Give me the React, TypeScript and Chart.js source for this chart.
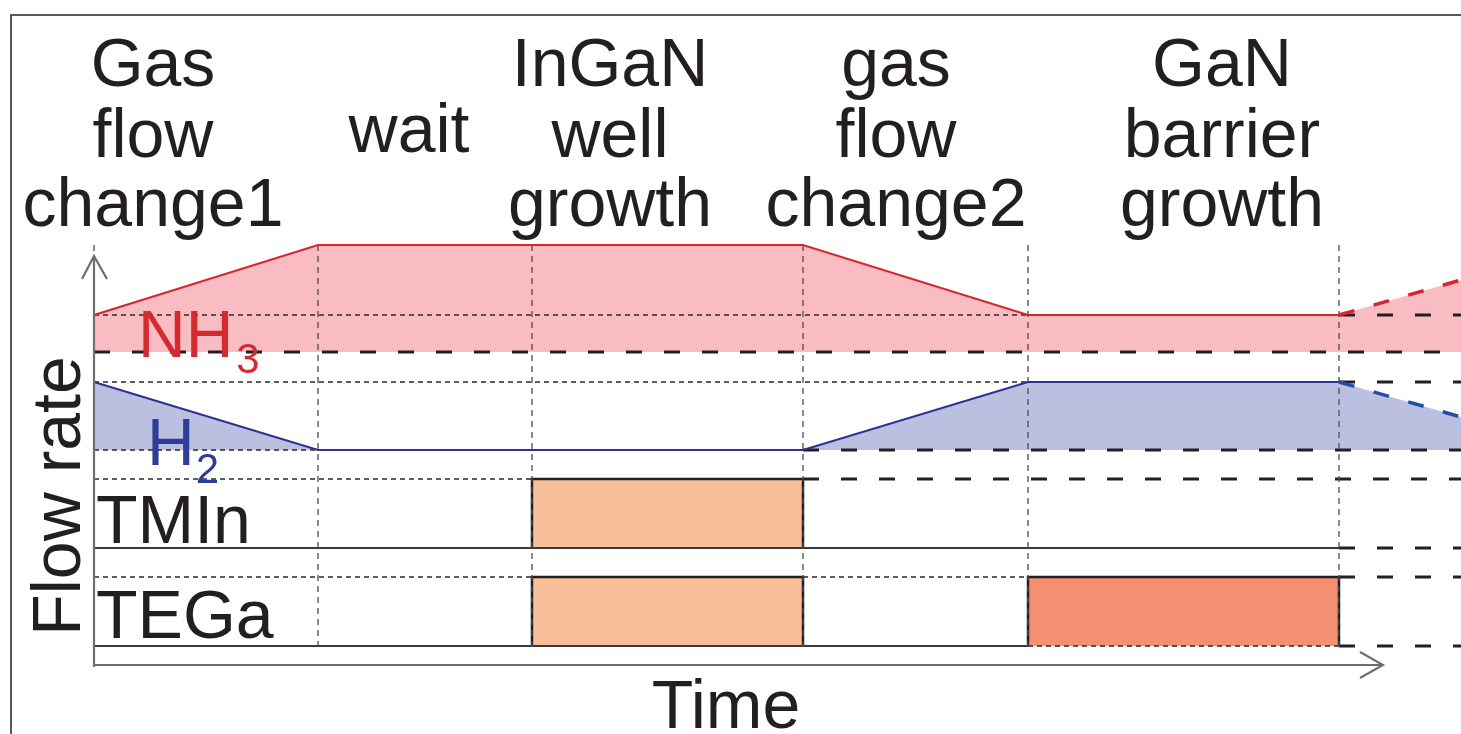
import React, { useEffect, useRef } from "react";
import { Chart, registerables } from "chart.js";

Chart.register(...registerables);

// ---- data (time in arbitrary units, flow rate in arbitrary units) ----
const phaseLabelLines = [
  ["Gas", "flow", "change1"],
  ["wait"],
  ["InGaN", "well", "growth"],
  ["gas", "flow", "change2"],
  ["GaN", "barrier", "growth"],
];
const phaseLabelTime = [5.9, 31.5, 51.6, 80.2, 112.8];
const phaseBoundaryTime = [0, 22.4, 43.8, 70.9, 93.4, 124.5];
const timeEnd = 136.7;

const nh3Time = [0, 22.4, 70.9, 93.4, 124.5, 136.7];
const nh3Flow = [35, 42, 42, 35, 35, 38.5];
const nh3Base = 31.3;

const h2Time = [0, 22.4, 70.9, 93.4, 124.5, 136.7];
const h2Flow = [28.3, 21.5, 21.5, 28.3, 28.3, 24.8];
const h2Base = 21.5;

const tmInTime = [43.8, 43.8, 70.9, 70.9];
const tmInFlow = [11.7, 18.6, 18.6, 11.7];

const tegaWellTime = [43.8, 43.8, 70.9, 70.9];
const tegaWellFlow = [1.9, 8.8, 8.8, 1.9];

const tegaBarrierTime = [93.4, 93.4, 124.5, 124.5];
const tegaBarrierFlow = [1.9, 8.8, 8.8, 1.9];

// guide lines
const thinGuideFlow = [35, 28.3, 21.5, 18.6, 8.8, 8.8, 1.9];
const thinGuideStart = [0, 0, 0, 0, 0, 70.9, 93.4];
const thinGuideEnd = [93.4, 93.4, 22.4, 43.8, 43.8, 93.4, 124.5];

const thickGuideFlow = [35, 31.3, 28.3, 21.5, 18.6, 11.7, 8.8, 1.9];
const thickGuideStart = [124.5, 0, 124.5, 70.9, 70.9, 124.5, 124.5, 124.5];

const solidGuideFlow = [11.7, 1.9];
const solidGuideEnd = [124.5, 93.4];

const verticalGuideTop = 42;
const verticalGuideBottom = 1.5;

const yAxisTop = 40.9;
const xAxisEnd = 128.9;

const FONT = '"Liberation Sans", Arial, Helvetica, sans-serif';
const INK = "#231F20";

function pts(xs: number[], ys: number[]) {
  return xs.map((x, i) => ({ x, y: ys[i] }));
}

function lineDs(data: { x: number; y: number }[], opts: any) {
  return {
    type: "line",
    data,
    pointRadius: 0,
    pointHoverRadius: 0,
    tension: 0,
    fill: false,
    clip: false,
    borderWidth: 1,
    ...opts,
  };
}

export default function App() {
  const ref = useRef<HTMLCanvasElement>(null);

  useEffect(() => {
    const datasets: any[] = [];

    // fills
    datasets.push(
      lineDs(pts(nh3Time, nh3Flow), {
        label: "NH3 fill",
        borderWidth: 0,
        borderColor: "rgba(0,0,0,0)",
        backgroundColor: "#F9BCC2",
        fill: { value: nh3Base },
        order: 100,
      })
    );
    datasets.push(
      lineDs(pts(h2Time, h2Flow), {
        label: "H2 fill",
        borderWidth: 0,
        borderColor: "rgba(0,0,0,0)",
        backgroundColor: "#BCC0E0",
        fill: { value: h2Base },
        order: 100,
      })
    );
    datasets.push(
      lineDs(pts(tmInTime, tmInFlow), {
        label: "TMIn",
        borderWidth: 2.5,
        borderColor: INK,
        backgroundColor: "#F9BF99",
        fill: { value: tmInFlow[0] },
        order: 90,
      })
    );
    datasets.push(
      lineDs(pts(tegaWellTime, tegaWellFlow), {
        label: "TEGa well",
        borderWidth: 2.5,
        borderColor: INK,
        backgroundColor: "#F9BF99",
        fill: { value: tegaWellFlow[0] },
        order: 90,
      })
    );
    datasets.push(
      lineDs(pts(tegaBarrierTime, tegaBarrierFlow), {
        label: "TEGa barrier",
        borderWidth: 2.5,
        borderColor: INK,
        backgroundColor: "#F48F71",
        fill: { value: tegaBarrierFlow[0] },
        order: 90,
      })
    );

    // thin dashed guides
    thinGuideFlow.forEach((f, i) => {
      datasets.push(
        lineDs(
          [
            { x: thinGuideStart[i], y: f },
            { x: thinGuideEnd[i], y: f },
          ],
          {
            label: "thin" + i,
            borderColor: "#2B2A2B",
            borderWidth: 1.3,
            borderDash: [5, 4],
            order: 50,
          }
        )
      );
    });
    // thick dashed guides
    thickGuideFlow.forEach((f, i) => {
      datasets.push(
        lineDs(
          [
            { x: thickGuideStart[i], y: f },
            { x: timeEnd, y: f },
          ],
          {
            label: "thick" + i,
            borderColor: INK,
            borderWidth: 3,
            borderDash: [16, 22],
            order: 50,
          }
        )
      );
    });
    // solid baselines
    solidGuideFlow.forEach((f, i) => {
      datasets.push(
        lineDs(
          [
            { x: 0, y: f },
            { x: solidGuideEnd[i], y: f },
          ],
          {
            label: "solid" + i,
            borderColor: "#3A3A3C",
            borderWidth: 2,
            order: 45,
          }
        )
      );
    });
    // vertical phase boundaries
    phaseBoundaryTime.forEach((t, i) => {
      datasets.push(
        lineDs(
          [
            { x: t, y: verticalGuideTop },
            { x: t, y: verticalGuideBottom },
          ],
          {
            label: "v" + i,
            borderColor: "#4D4D4F",
            borderWidth: 1.3,
            borderDash: [6, 5],
            order: 40,
          }
        )
      );
    });

    // series lines
    datasets.push(
      lineDs(pts(nh3Time, nh3Flow), {
        label: "NH3",
        borderColor: "#D7262B",
        borderWidth: 2,
        segment: {
          borderDash: (c: any) => (c.p0DataIndex === nh3Time.length - 2 ? [16, 20] : undefined),
          borderWidth: (c: any) => (c.p0DataIndex === nh3Time.length - 2 ? 3.5 : undefined),
        },
        order: 10,
      })
    );
    datasets.push(
      lineDs(pts(h2Time, h2Flow), {
        label: "H2",
        borderColor: "#2E3192",
        borderWidth: 2,
        segment: {
          borderDash: (c: any) => (c.p0DataIndex === h2Time.length - 2 ? [16, 20] : undefined),
          borderWidth: (c: any) => (c.p0DataIndex === h2Time.length - 2 ? 3.5 : undefined),
          borderColor: (c: any) => (c.p0DataIndex === h2Time.length - 2 ? "#1F4FA8" : undefined),
        },
        order: 10,
      })
    );

    // axes with arrows
    const axisColor = "#6D6E71";
    datasets.push(
      lineDs(
        [
          { x: 0, y: -0.2 },
          { x: 0, y: yAxisTop },
        ],
        { label: "yaxis", borderColor: axisColor, borderWidth: 2.2, order: 5 }
      )
    );
    datasets.push(
      lineDs(
        [
          { x: -1.2, y: yAxisTop - 2.3 },
          { x: 0, y: yAxisTop },
          { x: 1.3, y: yAxisTop - 2.3 },
        ],
        { label: "yarrow", borderColor: axisColor, borderWidth: 2.2, order: 5 }
      )
    );
    datasets.push(
      lineDs(
        [
          { x: 0, y: 0 },
          { x: xAxisEnd, y: 0 },
        ],
        { label: "xaxis", borderColor: axisColor, borderWidth: 2.2, order: 5 }
      )
    );
    datasets.push(
      lineDs(
        [
          { x: xAxisEnd - 2.3, y: 1.3 },
          { x: xAxisEnd, y: 0 },
          { x: xAxisEnd - 2.3, y: -1.3 },
        ],
        { label: "xarrow", borderColor: axisColor, borderWidth: 2.2, order: 5 }
      )
    );

    const textPlugin = {
      id: "schematicText",
      beforeDraw(chart: any) {
        const ctx = chart.ctx;
        ctx.save();
        ctx.fillStyle = "#ffffff";
        ctx.fillRect(0, 0, chart.width, chart.height);
        ctx.strokeStyle = "#59595B";
        ctx.lineWidth = 2;
        ctx.beginPath();
        ctx.moveTo(11, chart.height);
        ctx.lineTo(11, 15);
        ctx.lineTo(chart.width, 15);
        ctx.stroke();
        ctx.restore();
      },
      afterDatasetsDraw(chart: any) {
        const ctx = chart.ctx;
        const xs = chart.scales.x;
        const ys = chart.scales.y;
        ctx.save();
        ctx.textBaseline = "alphabetic";
        ctx.fillStyle = INK;
        ctx.font = "68px " + FONT;
        ctx.textAlign = "center";
        const rowFlow = [57.9, 50.8, 43.9];
        phaseLabelLines.forEach((lines, i) => {
          const px = xs.getPixelForValue(phaseLabelTime[i]);
          lines.forEach((ln, j) => {
            const f = lines.length === 1 ? 51.3 : rowFlow[j];
            ctx.fillText(ln, px, ys.getPixelForValue(f));
          });
        });

        // row labels
        ctx.textAlign = "left";
        ctx.fillText("TMIn", xs.getPixelForValue(0.2), ys.getPixelForValue(12.2));
        ctx.fillText("TEGa", xs.getPixelForValue(0.2), ys.getPixelForValue(2.7));

        // NH3
        ctx.fillStyle = "#D52B2F";
        ctx.font = "66px " + FONT;
        let x0 = xs.getPixelForValue(4.4);
        let y0 = ys.getPixelForValue(30.8);
        ctx.fillText("NH", x0, y0);
        let w = ctx.measureText("NH").width;
        ctx.font = "42px " + FONT;
        ctx.fillText("3", x0 + w + 3, y0 + 16);

        // H2
        ctx.fillStyle = "#2E3D98";
        ctx.font = "66px " + FONT;
        x0 = xs.getPixelForValue(5.3);
        y0 = ys.getPixelForValue(20);
        ctx.fillText("H", x0, y0);
        w = ctx.measureText("H").width;
        ctx.font = "42px " + FONT;
        ctx.fillText("2", x0 + w + 1, y0 + 18);

        // axis titles
        ctx.fillStyle = INK;
        ctx.font = "68px " + FONT;
        ctx.textAlign = "center";
        ctx.fillText("Time", xs.getPixelForValue(63.2), ys.getPixelForValue(-6.3));
        ctx.save();
        ctx.translate(xs.getPixelForValue(-1.4), ys.getPixelForValue(16.9));
        ctx.rotate(-Math.PI / 2);
        ctx.fillText("Flow rate", 0, 0);
        ctx.restore();

        ctx.restore();
      },
    };

    const chart = new Chart(ref.current as HTMLCanvasElement, {
      type: "line",
      data: { datasets },
      options: {
        animation: false,
        responsive: false,
        maintainAspectRatio: false,
        devicePixelRatio: 1,
        events: [],
        layout: { padding: 0 },
        plugins: {
          legend: { display: false },
          tooltip: { enabled: false },
          title: { display: false },
        },
        scales: {
          x: { type: "linear", min: -9.4, max: timeEnd, display: false },
          y: { type: "linear", min: -6.9, max: 66.5, display: false },
        },
      } as any,
      plugins: [textPlugin],
    } as any);
    return () => chart.destroy();
  }, []);

  return (
    <div style={{ position: "absolute", left: 0, top: 0, width: 1461, height: 734, background: "#fff" }}>
      <canvas ref={ref} width={1461} height={734} style={{ display: "block", width: 1461, height: 734 }} />
    </div>
  );
}
